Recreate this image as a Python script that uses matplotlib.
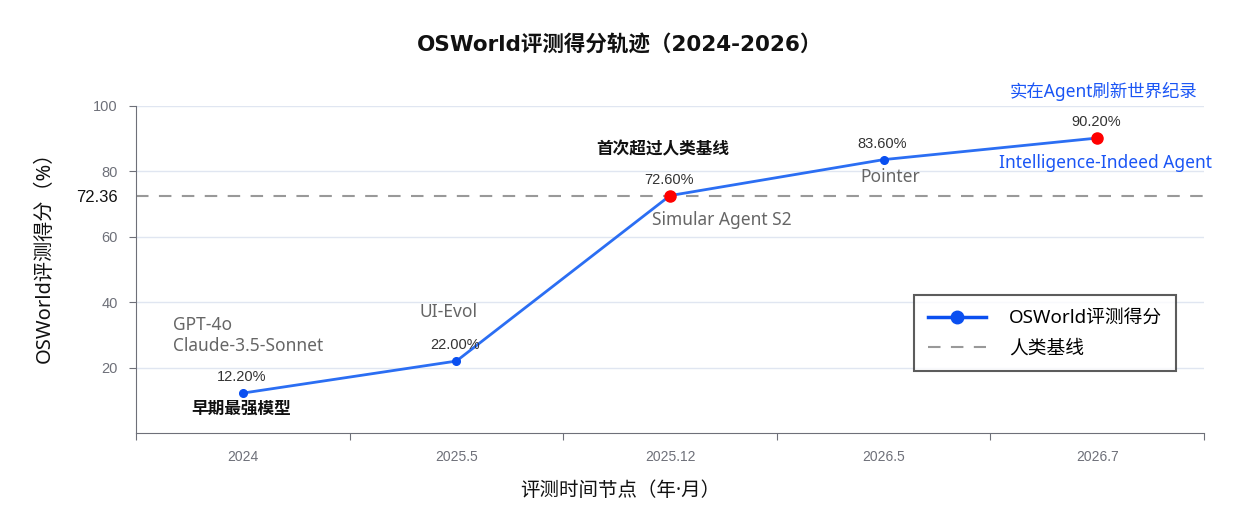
import matplotlib
matplotlib.use("Agg")
import matplotlib.pyplot as plt

# chart data
periods = ["2024", "2025.5", "2025.12", "2026.5", "2026.7"]
scores = [12.2, 22.0, 72.6, 83.6, 90.2]
is_record = [False, False, True, False, True]
human_baseline = 72.36
y_ticks = [20, 40, 60, 80, 100]

TXT = ["Noto Sans", "Noto Sans CJK SC", "DejaVu Sans"]
NUM = ["Liberation Sans", "DejaVu Sans"]
plt.rcParams["font.family"] = TXT

LINE_BLUE = "#2b6ef3"
TEXT_BLUE = "#1a55f5"
AXIS_GRAY = "#6e7079"

fig = plt.figure(figsize=(12.4, 5.25), dpi=100)
ax = fig.add_axes([136 / 1240, 92 / 525, 1068 / 1240, 327 / 525])

x = list(range(len(periods)))
ax.set_xlim(-0.5, len(periods) - 0.5)
ax.set_ylim(0, 100)

# grid + baseline
for v in y_ticks:
    ax.axhline(v, color="#e0e6f1", lw=1, zorder=0)
ax.axhline(human_baseline, color="#999999", lw=1.5, ls=(0, (6, 5)), zorder=1)

# score line
ax.plot(x, scores, color=LINE_BLUE, lw=2, zorder=3)
for xi, s, rec in zip(x, scores, is_record):
    if rec:
        ax.plot(xi, s, "o", color="#ff0000", ms=8, zorder=4)
    else:
        ax.plot(xi, s, "o", color="#0a4ff0", ms=5.5, zorder=4)

# legend proxies
h1, = ax.plot([], [], color="#0a4ff0", lw=2.5, marker="o", ms=9, label="OSWorld评测得分")
h2, = ax.plot([], [], color="#999999", lw=1.5, ls=(0, (6, 5)), label="人类基线")
leg = ax.legend(handles=[h1, h2], loc="upper right", bbox_to_anchor=(0.9738, 0.422),
                borderaxespad=0, fontsize=13.5, frameon=True, fancybox=False, borderpad=0.75,
                handlelength=3.1, handletextpad=1.2, labelspacing=0.65)
leg.get_frame().set_edgecolor("#333333")
leg.get_frame().set_linewidth(1.5)

# value labels
for xi, s in zip(x, scores):
    ax.annotate(f"{s:.2f}%", (xi, s), xytext=(-1, 16), textcoords="offset pixels",
                ha="center", va="center", fontsize=10.5, color="#333333", family=NUM)

def note(i, text, dx, dy, color="#666666", weight="normal", ha="center", size=12.5):
    ax.annotate(text, (x[i], scores[i]), xytext=(dx, dy), textcoords="offset pixels",
                ha=ha, va="center", fontsize=size, color=color, fontweight=weight,
                annotation_clip=False)

note(0, "GPT-4o", -70, 68.6, ha="left")
note(0, "Claude-3.5-Sonnet", -70, 47.6, ha="left")
note(0, "早期最强模型", -2, -16.4, color="#111111", weight="bold", size=12)
note(1, "UI-Evol", -8, 48.6)
note(2, "首次超过人类基线", -7, 45, color="#111111", weight="bold", size=12)
note(2, "Simular Agent S2", 52, -24)
note(3, "Pointer", 7, -17)
note(4, "Intelligence-Indeed Agent", 8, -24.5, color=TEXT_BLUE)
note(4, "实在Agent刷新世界纪录", 6, 46.5, color=TEXT_BLUE)

# axes styling
for side in ("top", "right"):
    ax.spines[side].set_visible(False)
for side in ("left", "bottom"):
    ax.spines[side].set_color(AXIS_GRAY)

ax.set_yticks(y_ticks + [human_baseline])
ax.set_yticklabels([str(v) for v in y_ticks] + [f"{human_baseline:.2f}"], family=NUM)
ax.tick_params(axis="y", colors=AXIS_GRAY, labelcolor="#6e7079", labelsize=10.5, length=5, pad=8)
lbl = ax.get_yticklabels()[-1]
lbl.set_color("#111111")
lbl.set_fontsize(12)
ax.yaxis.get_major_ticks()[-1].tick1line.set_visible(False)

ax.set_xticks([i - 0.5 for i in range(len(periods) + 1)])
ax.set_xticklabels([])
ax.set_xticks(x, minor=True)
ax.set_xticklabels(periods, minor=True, family=NUM)
ax.tick_params(axis="x", which="major", colors=AXIS_GRAY, length=5)
ax.tick_params(axis="x", which="minor", length=0, labelsize=10, labelcolor="#6e7079", pad=12)

fig.text(45 / 1240, (525 - 252) / 525, "OSWorld评测得分（%）", rotation=90,
         ha="center", va="center", fontsize=14.5, color="#111111")
fig.text(0.5, (525 - 491) / 525, "评测时间节点（年·月）", ha="center", va="center",
         fontsize=14, color="#111111")
fig.suptitle("OSWorld评测得分轨迹（2024-2026）", x=0.5, y=0.935, fontsize=15.5,
             fontweight="bold", color="#111111",
             family=["DejaVu Sans", "Noto Sans CJK SC"])

fig.savefig("out.png", dpi=100)
